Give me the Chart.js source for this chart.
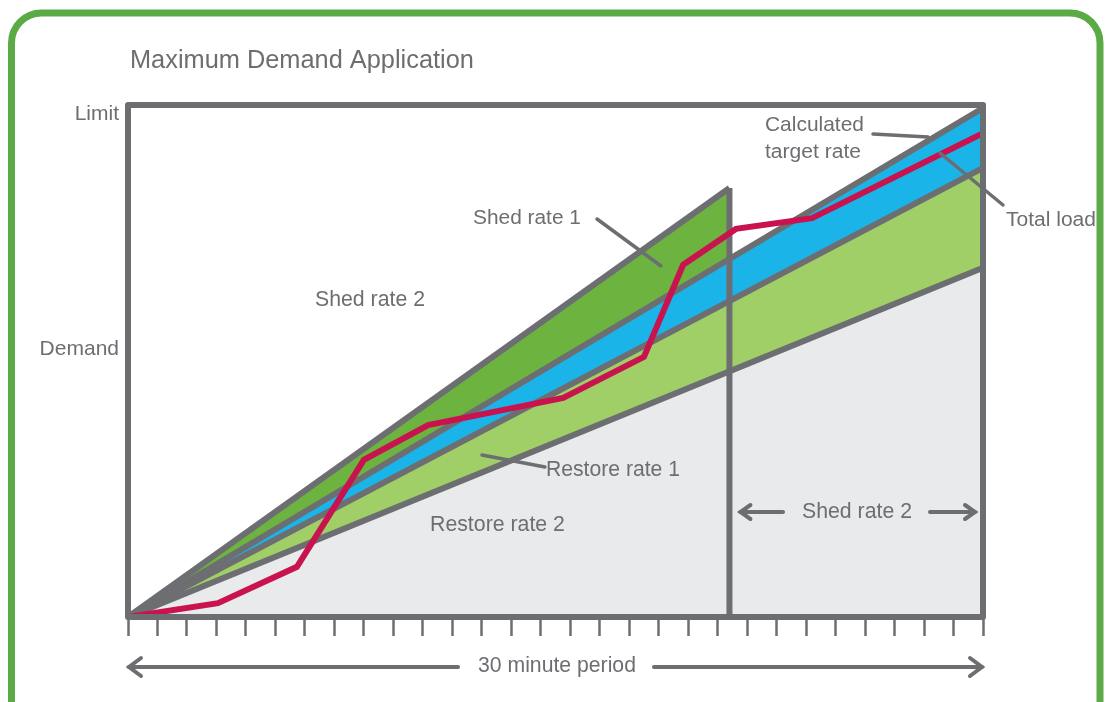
<!DOCTYPE html>
<html>
<head>
<meta charset="utf-8">
<script src="https://cdn.jsdelivr.net/npm/chart.js@4.4.1/dist/chart.umd.min.js"></script>
<style>
  html, body { margin: 0; padding: 0; background: #ffffff; }
  #wrap { width: 1106px; height: 702px; position: relative; }
</style>
</head>
<body>
<div id="wrap"><canvas id="c"></canvas></div>
<script>
// ---- data (x: tick marks across the 30 minute period, y: % of the demand limit) ----
const minuteTicks = [0,1,2,3,4,5,6,7,8,9,10,11,12,13,14,15,16,17,18,19,20,21,22,23,24,25,26,27,28,29];
const yTickValues = [54.1, 100];
const yTickLabels = ['Demand', 'Limit'];

const shedRate1Line   = [{x: 0, y: 0}, {x: 20.4, y: 83.8}];
const targetRateLine  = [{x: 0, y: 0}, {x: 29, y: 99.4}];
const restoreRate1Line = [{x: 0, y: 0}, {x: 29, y: 87.7}];
const restoreRate2Line = [{x: 0, y: 0}, {x: 29, y: 68.2}];
const shedSwitchLine  = [{x: 20.4, y: 0}, {x: 20.4, y: 83.8}];

const totalLoadX = [0, 3.05, 5.73, 8.0, 10.18, 14.76, 17.5, 18.83, 20.62, 23.2, 29];
const totalLoadY = [0, 2.7, 9.8, 30.7, 37.5, 42.8, 50.8, 68.8, 75.8, 77.9, 94.5];

// ---- styling ----
const GRAY = '#6d6e71';
const FONT = '"Liberation Sans", Arial, Helvetica, sans-serif';
Chart.defaults.font.family = FONT;

const totalLoad = totalLoadX.map((x, i) => ({x, y: totalLoadY[i]}));

function fitText(ctx, s, x, y, w, align) {
  ctx.font = '20px ' + FONT;
  const m = ctx.measureText(s).width;
  const size = 20 * w / m;
  ctx.font = size.toFixed(2) + 'px ' + FONT;
  ctx.textAlign = align || 'left';
  ctx.textBaseline = 'middle';
  ctx.fillStyle = GRAY;
  ctx.fillText(s, x, y);
}
function seg(ctx, x1, y1, x2, y2, w) {
  ctx.beginPath(); ctx.moveTo(x1, y1); ctx.lineTo(x2, y2);
  ctx.lineWidth = w; ctx.strokeStyle = GRAY; ctx.lineCap = 'round'; ctx.stroke();
}
function arrow(ctx, x1, x2, y, headAt, w, hl, hh) {
  seg(ctx, x1, y, x2, y, w);
  const tip = headAt === 'left' ? x1 : x2;
  const d = headAt === 'left' ? 1 : -1;
  ctx.beginPath();
  ctx.moveTo(tip + d * hl, y - hh); ctx.lineTo(tip, y); ctx.lineTo(tip + d * hl, y + hh);
  ctx.lineWidth = w; ctx.strokeStyle = GRAY; ctx.lineJoin = 'miter'; ctx.lineCap = 'round'; ctx.stroke();
}

const decor = {
  id: 'decor',
  beforeDraw(chart) {
    const ctx = chart.ctx;
    ctx.save();
    ctx.strokeStyle = '#5aab46';
    ctx.lineWidth = 7;
    const x = 11.5, y = 13, w = 1100 - 11.5, h = 780, r = 30;
    ctx.beginPath();
    ctx.moveTo(x + r, y);
    ctx.lineTo(x + w - r, y);
    ctx.arcTo(x + w, y, x + w, y + r, r);
    ctx.lineTo(x + w, y + h);
    ctx.moveTo(x, y + h);
    ctx.lineTo(x, y + r);
    ctx.arcTo(x, y, x + r, y, r);
    ctx.stroke();
    ctx.restore();
  },
  afterDatasetsDraw(chart) {
    const {ctx, chartArea: a} = chart;
    ctx.save();
    ctx.strokeStyle = GRAY;
    ctx.lineWidth = 6;
    ctx.lineJoin = 'round';
    ctx.strokeRect(a.left, a.top, a.right - a.left, a.bottom - a.top);
    ctx.restore();
  },
  afterDraw(chart) {
    const {ctx, chartArea: a, scales} = chart;
    ctx.save();
    fitText(ctx, 'Maximum Demand Application', 130, 61, 344, 'left');
    fitText(ctx, 'Shed rate 1', 473, 218, 108, 'left');
    fitText(ctx, 'Shed rate 2', 315, 300, 110, 'left');
    fitText(ctx, 'Calculated', 765, 125, 99, 'left');
    fitText(ctx, 'target rate', 765, 152, 96, 'left');
    fitText(ctx, 'Total load', 1006, 220, 90, 'left');
    fitText(ctx, 'Restore rate 1', 546, 470, 134, 'left');
    fitText(ctx, 'Restore rate 2', 430, 525, 135, 'left');
    fitText(ctx, 'Shed rate 2', 802, 512, 110, 'left');
    fitText(ctx, '30 minute period', 478, 666, 158, 'left');

    // leader lines
    seg(ctx, 597, 219, 661, 266, 3.5);
    seg(ctx, 873, 134, 928, 137, 3.5);
    seg(ctx, 940, 153, 1003, 205, 3.5);
    seg(ctx, 482, 455, 545, 467, 3.5);

    // period arrows
    const xs = scales.x;
    const xSwitch = xs.getPixelForValue(shedSwitchLine[0].x);
    arrow(ctx, a.left + 1, 458, 667, 'left', 4, 12, 9);
    arrow(ctx, 654, a.right - 1, 667, 'right', 4, 12, 9);
    arrow(ctx, xSwitch + 11, 783, 512, 'left', 4, 10, 7);
    arrow(ctx, 930, a.right - 8, 512, 'right', 4, 10, 7);
    ctx.restore();
  }
};

const lineBase = {
  borderColor: GRAY,
  borderWidth: 6,
  pointRadius: 0,
  tension: 0,
  order: 1
};

new Chart(document.getElementById('c'), {
  type: 'line',
  data: {
    datasets: [
      Object.assign({}, lineBase, {label: 'Restore rate 2', data: restoreRate2Line,
        fill: {target: 'origin', above: '#e9eaec', below: '#e9eaec'}}),
      Object.assign({}, lineBase, {label: 'Restore rate 1', data: restoreRate1Line,
        fill: {target: 0, above: '#a0cf67', below: '#a0cf67'}}),
      Object.assign({}, lineBase, {label: 'Calculated target rate', data: targetRateLine,
        fill: {target: 1, above: '#1ab4e8', below: '#1ab4e8'}}),
      Object.assign({}, lineBase, {label: 'Shed rate 1', data: shedRate1Line,
        fill: {target: 2, above: '#6db33f', below: '#6db33f'}}),
      Object.assign({}, lineBase, {label: 'Shed switch', data: shedSwitchLine, borderWidth: 6, fill: false}),
      {label: 'Total load', data: totalLoad, borderColor: '#c9134f', borderWidth: 6,
        pointRadius: 0, tension: 0, fill: false, order: 0, borderJoinStyle: 'miter'}
    ]
  },
  options: {
    responsive: true,
    maintainAspectRatio: false,
    animation: false,
    devicePixelRatio: 1,
    layout: {padding: {left: 0, top: 105, right: 123, bottom: 0}},
    plugins: {
      legend: {display: false},
      tooltip: {enabled: false},
      title: {display: false},
      filler: {drawTime: 'beforeDatasetsDraw'}
    },
    scales: {
      x: {
        type: 'linear',
        min: 0, max: 29,
        afterBuildTicks: s => { s.ticks = minuteTicks.map(v => ({value: v})); },
        afterFit: s => { s.height = 85; },
        ticks: {display: false, autoSkip: false},
        grid: {display: true, drawOnChartArea: false, drawTicks: true, tickLength: 19,
               tickColor: GRAY, tickWidth: 2.5},
        border: {display: false}
      },
      y: {
        type: 'linear',
        min: 0, max: 100,
        afterBuildTicks: s => { s.ticks = yTickValues.map(v => ({value: v})); },
        afterFit: s => { s.width = 128; },
        ticks: {
          autoSkip: false,
          padding: 9,
          labelOffset: 9,
          color: GRAY,
          font: {size: 21, family: FONT},
          callback: (v) => yTickLabels[yTickValues.indexOf(v)]
        },
        grid: {display: false, drawTicks: false},
        border: {display: false}
      }
    }
  },
  plugins: [decor]
});
</script>
</body>
</html>
